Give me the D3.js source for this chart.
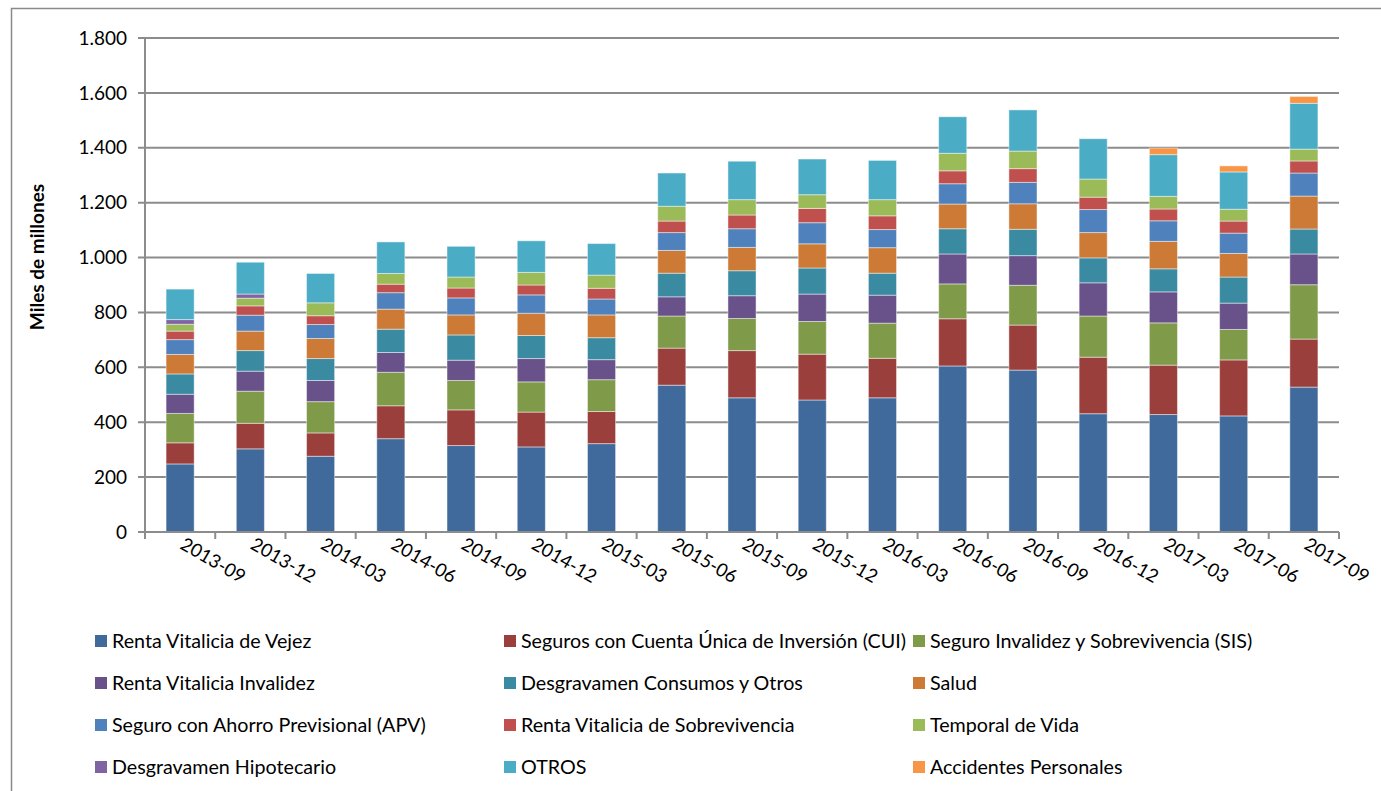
<!DOCTYPE html>
<html>
<head>
<meta charset="utf-8">
<script src="https://cdn.jsdelivr.net/npm/d3@7/dist/d3.min.js"></script>
<style>
  html, body { margin: 0; padding: 0; background: #fff; }
  svg { display: block; }
  text { font-family: Lato, "Open Sans", sans-serif; fill: #000; }
</style>
</head>
<body>
<svg id="chart" width="1381" height="791"></svg>
<script>
const categories = ["2013-09","2013-12","2014-03","2014-06","2014-09","2014-12","2015-03","2015-06","2015-09","2015-12","2016-03","2016-06","2016-09","2016-12","2017-03","2017-06","2017-09"];

const seriesNames = [
  "Renta Vitalicia de Vejez",
  "Seguros con Cuenta Única de Inversión (CUI)",
  "Seguro Invalidez y Sobrevivencia (SIS)",
  "Renta Vitalicia Invalidez",
  "Desgravamen Consumos y Otros",
  "Salud",
  "Seguro con Ahorro Previsional (APV)",
  "Renta Vitalicia de Sobrevivencia",
  "Temporal de Vida",
  "Desgravamen Hipotecario",
  "OTROS",
  "Accidentes Personales"
];

const rvVejez    = [248,303,276,340,315,310,322,535,489,481,489,605,590,431,428,423,528];
const cui        = [77,93,85,120,130,127,117,135,172,167,144,172,164,206,180,204,175];
const sis        = [107,117,114,122,107,110,116,117,117,119,128,127,145,150,154,111,198];
const rvInval    = [70,73,77,72,74,85,73,70,83,100,102,109,108,121,113,96,112];
const desgCons   = [74,75,80,85,92,84,80,86,91,95,80,92,96,91,84,95,91];
const salud      = [71,71,73,73,73,81,83,83,85,88,93,90,93,92,100,86,120];
const apv        = [54,58,51,60,62,67,58,65,68,77,66,74,78,84,75,74,84];
const rvSobrev   = [31,34,32,31,36,36,39,42,50,52,50,47,50,45,43,44,44];
const temporal   = [25,28,47,39,40,46,48,54,56,50,59,64,64,66,46,43,43];
const desgHipot  = [17,15,0,0,0,0,0,0,0,0,0,0,0,0,0,0,0];
const otros      = [111,116,107,115,112,115,115,121,140,130,143,133,150,147,152,136,167];
const accidentes = [0,0,0,0,0,0,0,0,0,0,0,0,0,0,24,22,25];

const yTicks = [0,200,400,600,800,1000,1200,1400,1600,1800];
const yTickLabels = ["0","200","400","600","800","1.000","1.200","1.400","1.600","1.800"];

const colors = ["#3F6A9B","#9B3F3D","#7F9A48","#69518A","#3A8AA2","#CC7A36",
                "#4F81BD","#C0504D","#9BBB59","#8064A2","#4BACC6","#F79646"];

const seriesValues = [rvVejez, cui, sis, rvInval, desgCons, salud, apv, rvSobrev, temporal, desgHipot, otros, accidentes];

const table = categories.map((c, i) => {
  const row = { cat: c };
  seriesNames.forEach((n, k) => row[n] = seriesValues[k][i]);
  return row;
});

const svg = d3.select("#chart");
const pLeft = 145, pRight = 1339, pTop = 38, pBottom = 532;

// outer border
svg.append("rect").attr("x", 11.5).attr("y", 8.5).attr("width", 1400).attr("height", 800)
  .attr("fill", "none").attr("stroke", "#8a8a8a").attr("stroke-width", 1.5);

const x = d3.scaleBand().domain(categories).range([pLeft, pRight]).paddingInner(0.6).paddingOuter(0.3);
const y = d3.scaleLinear().domain([0, 1800]).range([pBottom, pTop]);

// gridlines
svg.append("g").selectAll("line").data(yTicks).join("line")
  .attr("x1", pLeft - 7).attr("x2", pRight)
  .attr("y1", d => y(d)).attr("y2", d => y(d))
  .attr("stroke", "#8c8c8c").attr("stroke-width", 2);

// stacked bars
const stack = d3.stack().keys(seriesNames)(table);
svg.append("g").selectAll("g").data(stack).join("g")
  .attr("fill", (d, i) => colors[i])
  .selectAll("rect").data(d => d.filter(p => p[1] - p[0] > 0)).join("rect")
  .attr("x", d => x(d.data.cat))
  .attr("width", x.bandwidth())
  .attr("y", d => y(d[1]))
  .attr("height", d => y(d[0]) - y(d[1]))
  .attr("stroke", "rgba(255,255,255,0.45)").attr("stroke-width", 1);

// y axis line
svg.append("line").attr("x1", pLeft).attr("x2", pLeft).attr("y1", pTop).attr("y2", pBottom + 1)
  .attr("stroke", "#8c8c8c").attr("stroke-width", 2);
// x axis line
svg.append("line").attr("x1", pLeft - 7).attr("x2", pRight).attr("y1", pBottom).attr("y2", pBottom)
  .attr("stroke", "#8c8c8c").attr("stroke-width", 2);

// x ticks at band boundaries
const xt = d3.range(categories.length + 1).map(i => pLeft + i * (pRight - pLeft) / categories.length);
svg.append("g").selectAll("line").data(xt).join("line")
  .attr("x1", d => d).attr("x2", d => d).attr("y1", pBottom).attr("y2", pBottom + 7)
  .attr("stroke", "#8c8c8c").attr("stroke-width", 2);

// y tick labels
svg.append("g").selectAll("text").data(yTicks).join("text")
  .attr("x", 127).attr("y", d => y(d)).attr("dy", "0.35em")
  .attr("text-anchor", "end").attr("font-size", 19)
  .text((d, i) => yTickLabels[i]);

// x labels
svg.append("g").selectAll("text").data(categories).join("text")
  .attr("transform", d => `translate(${x(d) + x.bandwidth() / 2 - 1},${pBottom + 16}) rotate(30)`)
  .attr("text-anchor", "start").attr("font-size", 18.5)
  .text(d => d);

// y title
svg.append("text")
  .attr("transform", `translate(44,257) rotate(-90)`)
  .attr("text-anchor", "middle").attr("font-size", 19).attr("font-weight", "bold")
  .text("Miles de millones");

// legend
const legCols = [95, 504, 913];
const legRows = [641, 683, 725, 767];
const leg = svg.append("g").selectAll("g").data(seriesNames).join("g")
  .attr("transform", (d, i) => `translate(${legCols[i % 3]},${legRows[Math.floor(i / 3)]})`);
leg.append("rect").attr("x", 0).attr("y", -6).attr("width", 12).attr("height", 12)
  .attr("fill", (d, i) => colors[i]);
leg.append("text").attr("x", 17).attr("y", 0).attr("dy", "0.35em")
  .attr("font-size", 19.7).text(d => d);
</script>
</body>
</html>
